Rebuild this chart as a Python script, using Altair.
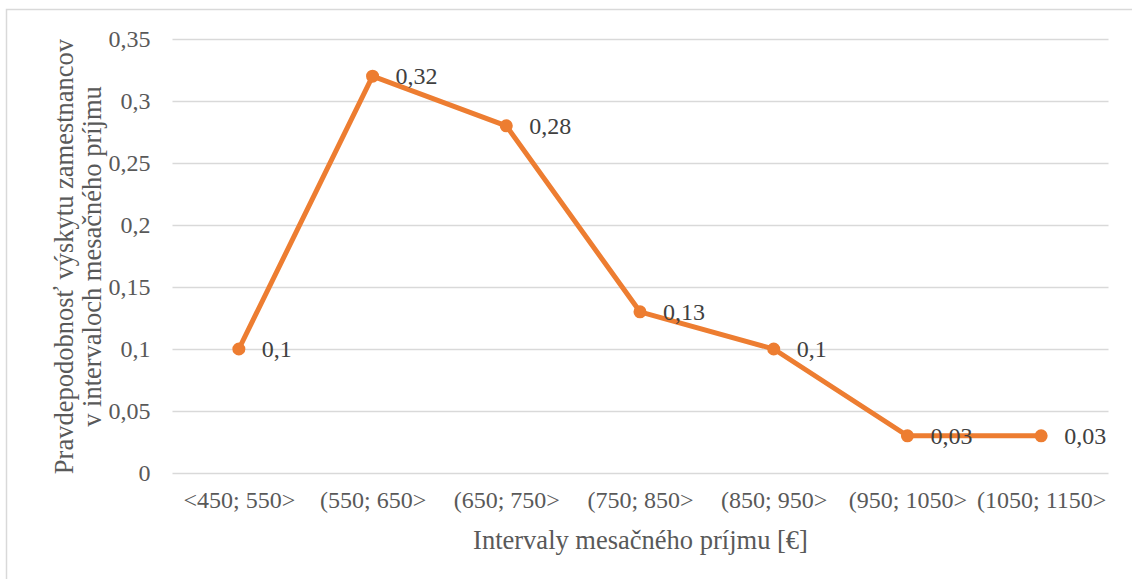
import altair as alt
import pandas as pd

categories = ["<450; 550>", "(550; 650>", "(650; 750>", "(750; 850>",
              "(850; 950>", "(950; 1050>", "(1050; 1150>"]
values = [0.10, 0.32, 0.28, 0.13, 0.10, 0.03, 0.03]
y_ticks = [0, 0.05, 0.10, 0.15, 0.20, 0.25, 0.30, 0.35]

df = pd.DataFrame({
    "interval": categories,
    "p": values,
    "label": [f"{v:g}".replace(".", ",") for v in values],
})

FONT = "'Liberation Serif', 'DejaVu Serif', serif"
ORANGE = "#ED7D31"

x_enc = alt.X("interval:N", sort=categories,
              scale=alt.Scale(type="point", padding=0.5),
              axis=alt.Axis(title="Intervaly mesačného príjmu [€]", labelAngle=0,
                            ticks=False, domain=False, grid=False, labelOverlap=False,
                            labelPadding=15, titlePadding=15, labelLimit=0))
y_enc = alt.Y("p:Q", scale=alt.Scale(domain=[0, 0.35], nice=False),
              axis=alt.Axis(title=["Pravdepodobnosť výskytu zamestnancov",
                                   "v intervaloch mesačného príjmu"],
                            values=y_ticks, ticks=False, domain=False,
                            labelExpr="replace(format(datum.value, ''), '.', ',')",
                            labelPadding=22, titlePadding=2, titleLineHeight=28))

base = alt.Chart(df)
line = base.mark_line(color=ORANGE, strokeWidth=5).encode(x=x_enc, y=y_enc)
pts = base.mark_circle(color=ORANGE, size=170, opacity=1).encode(x=x_enc, y=y_enc)
txt = base.mark_text(align="left", baseline="middle", dx=23, dy=1, font=FONT,
                     fontSize=24, color="#404040").encode(x=x_enc, y=y_enc, text="label:N")

border = alt.Chart(alt.Data(values=[{}])).mark_rect(
    filled=False, stroke="#d9d9d9", strokeWidth=1.5).encode(
    x=alt.value(-165.5), y=alt.value(-29.5), x2=alt.value(1000), y2=alt.value(600))

chart = alt.layer(border, line, pts, txt).properties(
    width=936, height=434,
    autosize=alt.AutoSizeParams(type="none"),
    padding={"left": 172, "top": 39, "right": 24, "bottom": 106},
    background="white",
).configure_view(stroke=None).configure_axis(
    labelFont=FONT, titleFont=FONT, labelFontSize=24, titleFontSize=26.5,
    labelColor="#595959", titleColor="#595959", titleFontWeight="normal",
    gridColor="#d9d9d9", gridWidth=1.5,
)

chart.save("out.html", embed_options={"renderer": "svg", "actions": False})
